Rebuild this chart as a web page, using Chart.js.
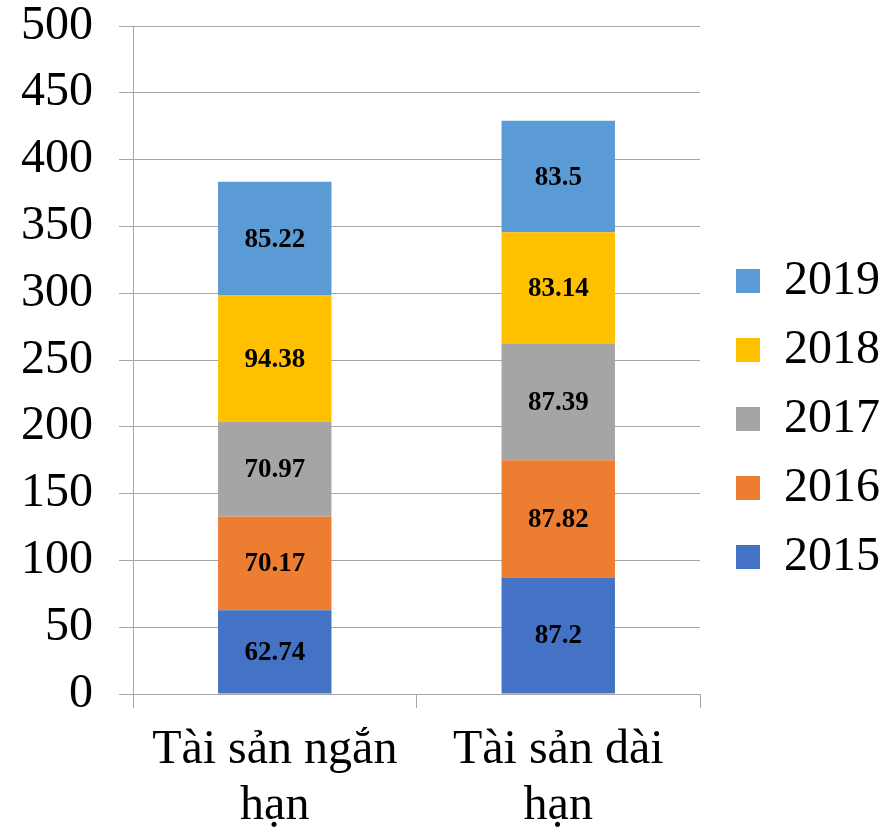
<!DOCTYPE html>
<html>
<head>
<meta charset="utf-8">
<script src="https://cdn.jsdelivr.net/npm/chart.js@4/dist/chart.umd.min.js"></script>
<style>
  html, body { margin: 0; padding: 0; background: #fff; }
  #wrap { width: 886px; height: 828px; }
</style>
</head>
<body>
<div id="wrap"><canvas id="c" width="886" height="828"></canvas></div>
<script>
const categories = [['Tài sản ngắn', 'hạn'], ['Tài sản dài', 'hạn']];
const years = ['2015', '2016', '2017', '2018', '2019'];
const v2015 = [62.74, 87.2];
const v2016 = [70.17, 87.82];
const v2017 = [70.97, 87.39];
const v2018 = [94.38, 83.14];
const v2019 = [85.22, 83.5];
const colors = ['#4472C4', '#ED7D31', '#A5A5A5', '#FFC000', '#5B9BD5'];
const yTicks = [0, 50, 100, 150, 200, 250, 300, 350, 400, 450, 500];

const series = [v2015, v2016, v2017, v2018, v2019];
const FONT = "'Liberation Serif', 'Times New Roman', serif";

const labelPlugin = {
  id: 'barLabels',
  afterDatasetsDraw(chart) {
    const ctx = chart.ctx;
    ctx.save();
    ctx.font = "bold 27px " + FONT;
    ctx.fillStyle = '#000';
    ctx.textAlign = 'center';
    ctx.textBaseline = 'middle';
    chart.data.datasets.forEach((ds, i) => {
      const meta = chart.getDatasetMeta(i);
      meta.data.forEach((el, j) => {
        const p = el.getProps(['x', 'y', 'base'], true);
        ctx.fillText(String(ds.data[j]), p.x, (p.y + p.base) / 2 + 1);
      });
    });
    ctx.restore();
  }
};

const legendShift = {
  id: 'legendShift',
  afterLayout(chart) {
    const lg = chart.legend;
    if (lg) { lg.left += 15; lg.right += 15; lg.top -= 8; lg.bottom -= 8; }
  }
};

new Chart(document.getElementById('c'), {
  type: 'bar',
  data: {
    labels: categories,
    datasets: years.map((y, i) => ({
      label: y,
      data: series[i],
      backgroundColor: colors[i],
      borderWidth: 0,
      barPercentage: 0.4,
      categoryPercentage: 1.0
    }))
  },
  options: {
    responsive: false,
    animation: false,
    layout: { padding: { left: -5, right: 11, top: 26, bottom: 0 } },
    plugins: {
      legend: {
        position: 'right',
        reverse: true,
        labels: {
          color: '#000',
          font: { family: FONT, size: 48 },
          boxWidth: 24,
          boxHeight: 24,
          padding: 21
        }
      },
      tooltip: { enabled: false }
    },
    scales: {
      x: {
        stacked: true,
        afterFit(scale) { scale.height = 134; },
        grid: {
          offset: true,
          drawOnChartArea: false,
          drawTicks: true,
          tickLength: 14,
          color: '#A6A6A6'
        },
        border: { color: '#A6A6A6' },
        ticks: {
          color: '#000',
          font: { family: FONT, size: 48, lineHeight: 1.17 },
          padding: 14,
          maxRotation: 0
        }
      },
      y: {
        stacked: true,
        min: 0,
        max: 500,
        afterBuildTicks(axis) { axis.ticks = yTicks.map(v => ({ value: v })); },
        afterFit(scale) { scale.paddingTop = 0; scale.paddingBottom = 0; },
        grid: { color: '#A6A6A6', tickLength: 14 },
        border: { color: '#A6A6A6' },
        ticks: {
          color: '#000',
          font: { family: FONT, size: 48 },
          padding: 26
        }
      }
    }
  },
  plugins: [labelPlugin, legendShift]
});
</script>
</body>
</html>
